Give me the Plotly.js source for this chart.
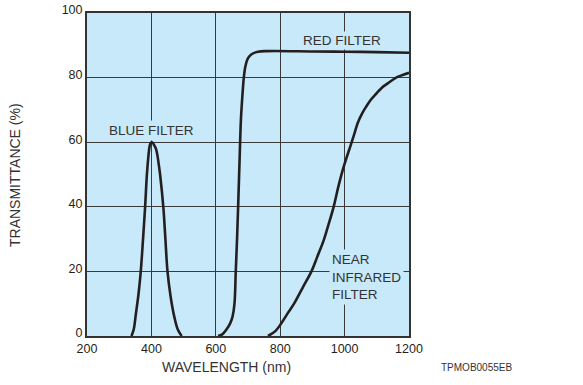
<!DOCTYPE html>
<html>
<head>
<meta charset="utf-8">
<script src="https://cdn.plot.ly/plotly-3.0.1.min.js"></script>
<style>
html,body{margin:0;padding:0;background:#fff;}
#chart{width:583px;height:385px;}
</style>
</head>
<body>
<div id="chart"></div>
<script>
// Blue filter
var blueWl = [338,345,352,360,367,374,380.5,386,391,394,397,401,405,409,414,418.6,423,427,437,443.5,450,460,471,482,494];
var blueT  = [0,2,7,13,20,30,40,50,56,58.5,59.6,60,59.7,59,58,56,53,50,40,30,20,12,6,2,0];
// Red filter
var redWl = [607,620,633,645,652,658,662,666,670,674,678,683,687,692,700,712,731,760,900,1000,1100,1200];
var redT  = [0,0.5,2,4,6,10,20,30,42,55,67,75,80,83.5,86,87.3,88,88.2,88.1,88,87.9,87.7];
// Near infrared filter
var nirWl = [762,785,804,823,843,870,897,915,935,950,966,980,993,1007,1017,1030,1041,1055,1067,1082,1098,1115,1134,1160,1180,1200];
var nirT  = [0,1.5,4,7,10,15,20,24.5,29.6,34.5,40,46,51,55.5,58.5,62.5,66,69,71,73.2,75,76.8,78.2,80,80.8,81.5];

var xTicks = [200,400,600,800,1000,1200];
var yTicks = [0,20,40,60,80,100];

var labels = {
  blue: "BLUE FILTER",
  red: "RED FILTER",
  nir: "NEAR<br>INFRARED<br>FILTER",
  xTitle: "WAVELENGTH (nm)",
  yTitle: "TRANSMITTANCE (%)",
  code: "TPMOB0055EB"
};

var bg = "#c7e9f9";
var ink = "#231f20";
var fam = "Liberation Sans, Arial, Helvetica, sans-serif";

function curve(x, y) {
  return {x: x, y: y, type: "scatter", mode: "lines",
    line: {color: ink, width: 2.6, shape: "spline", smoothing: 1},
    hoverinfo: "skip", showlegend: false};
}

var data = [curve(blueWl, blueT), curve(redWl, redT), curve(nirWl, nirT)];

var ML = 87, MR = 174, MT = 13, MB = 49;
var PW = 583 - ML - MR, PH = 385 - MT - MB;
function px(xp){ return (xp - ML) / PW; }
function py(yp){ return (385 - MB - yp) / PH; }

var layout = {
  width: 583, height: 385,
  margin: {l: ML, r: MR, t: MT, b: MB, pad: 0},
  paper_bgcolor: "#ffffff",
  plot_bgcolor: bg,
  font: {family: fam, color: ink, size: 12},
  showlegend: false,
  xaxis: {
    range: [200, 1200], tickvals: xTicks, ticktext: xTicks.map(String),
    showgrid: true, gridcolor: "#3a3a3a", gridwidth: 1,
    zeroline: false, showline: true, linecolor: "#333", linewidth: 2, mirror: true,
    ticks: "", ticklen: 0, tickfont: {size: 12.5, color: ink, family: fam}, fixedrange: true
  },
  yaxis: {
    range: [0, 100], tickvals: yTicks, ticktext: yTicks.map(String),
    showgrid: true, gridcolor: "#3a3a3a", gridwidth: 1,
    zeroline: false, showline: true, linecolor: "#333", linewidth: 2, mirror: true,
    ticks: "", ticklen: 0, ticklabelshift: -3,
    tickfont: {size: 12.5, color: ink, family: fam}, fixedrange: true
  },
  annotations: [
    {x: 401, y: 63.7, xref: "x", yref: "y", text: labels.blue, showarrow: false,
     xanchor: "center", yanchor: "middle",
     font: {size: 13.5, color: "#333", family: fam}, bgcolor: bg, borderpad: 2},
    {x: 992, y: 91.5, xref: "x", yref: "y", text: labels.red, showarrow: false,
     xanchor: "center", yanchor: "middle",
     font: {size: 13.5, color: "#333", family: fam}, bgcolor: bg, borderpad: 1},
    {x: 953, y: 18.3, xref: "x", yref: "y", text: labels.nir, showarrow: false,
     xanchor: "left", yanchor: "middle", align: "left",
     font: {size: 13.5, color: "#333", family: fam}, bgcolor: bg, borderpad: 2},
    {x: px(226), y: py(367), xref: "paper", yref: "paper", xanchor: "center", yanchor: "middle",
     text: labels.xTitle, showarrow: false,
     font: {size: 14, color: "#333", family: fam}},
    {x: px(15), y: py(175), xref: "paper", yref: "paper", xanchor: "center", yanchor: "middle",
     text: labels.yTitle, showarrow: false,
     textangle: -90, font: {size: 14, color: "#333", family: fam}},
    {x: px(476), y: py(367), xref: "paper", yref: "paper", xanchor: "center", yanchor: "middle",
     text: labels.code, showarrow: false,
     font: {size: 10, color: "#333", family: fam}}
  ]
};

Plotly.newPlot("chart", data, layout, {displayModeBar: false, staticPlot: true});
</script>
</body>
</html>
